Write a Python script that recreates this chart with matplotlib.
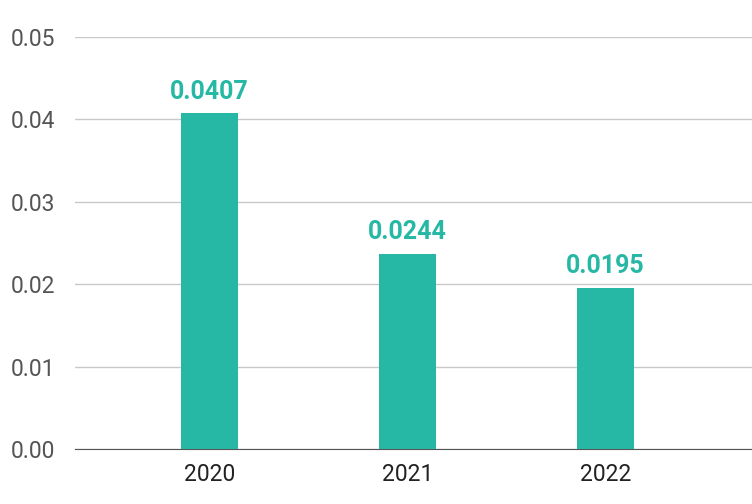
import matplotlib.pyplot as plt

years = ["2020", "2021", "2022"]
heights = [0.0407, 0.0237, 0.0195]
labels = ["0.0407", "0.0244", "0.0195"]
yticks = [0.00, 0.01, 0.02, 0.03, 0.04, 0.05]

COLOR = "#26b8a5"

fig = plt.figure(figsize=(7.52, 5.04), dpi=100)
ax = fig.add_axes([0.0997, 0.109, 0.9003, 0.818])

x = list(range(len(years)))
ax.bar(x, heights, width=0.29, color=COLOR, zorder=3)
for xi, h, lab in zip(x, heights, labels):
    ax.text(xi, h + 0.0012, lab, ha="center", va="bottom", color=COLOR,
            fontsize=18, fontweight="bold", family="Roboto")

ax.set_xlim(-0.68, 2.74)
ax.set_ylim(0, 0.05)
ax.set_yticks(yticks)
ax.set_yticklabels(["%.2f" % v for v in yticks])
ax.set_xticks(x)
ax.set_xticklabels(years)
ax.yaxis.grid(True, color="#c8c8c8", linewidth=1, zorder=0)
for s in ["top", "right", "left"]:
    ax.spines[s].set_visible(False)
ax.spines["bottom"].set_color("#555555")
ax.tick_params(axis="both", length=0, labelsize=16.5, colors="#555555")
ax.tick_params(axis="x", colors="#222222", pad=10)
ax.tick_params(axis="y", pad=14)
for t in ax.get_xticklabels() + ax.get_yticklabels():
    t.set_family("Roboto")

fig.savefig("out.png", dpi=100)
